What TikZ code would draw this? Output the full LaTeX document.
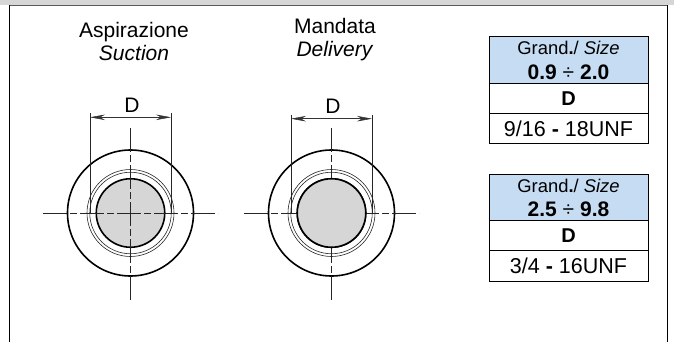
\documentclass[tikz,border=0pt]{standalone}
\usepackage{fontspec}
\setmainfont{Liberation Sans}
\usetikzlibrary{arrows.meta}
\definecolor{bandgray}{RGB}{214,214,214}
\definecolor{framegray}{RGB}{90,90,90}
\definecolor{headblue}{RGB}{198,220,243}
\definecolor{pistongray}{RGB}{214,214,214}
\tikzset{
    x=1pt,y=-1pt,
    thinline/.style={line width=0.6pt,black!85},
    thickline/.style={line width=1.6pt},
    axisline/.style={line width=0.6pt,black!85,dash pattern=on 24pt off 3pt on 7pt off 3pt},
    dimarrow/.style={line width=0.5pt,black!80,{Stealth[length=15pt,width=5.5pt]}-{Stealth[length=15pt,width=5.5pt]}},
    caption/.style={inner sep=0pt,font=\fontsize{21}{23}\selectfont,align=center},
    cell/.style={inner sep=0pt,font=\fontsize{18.4}{20}\selectfont},
    cellrange/.style={inner sep=0pt,font=\fontsize{21}{22}\selectfont\bfseries},
    cellbold/.style={inner sep=0pt,font=\fontsize{20}{22}\selectfont\bfseries},
    cellthread/.style={inner sep=0pt,font=\fontsize{21.5}{22}\selectfont},
    borecircle/.style={circle,draw,thickline,fill=pistongray,minimum size=68.5pt,inner sep=0pt}
}
\newcommand{\portview}[4]{
    % Outer and inner circles
    \node[circle,draw,thickline,minimum size=126pt,inner sep=0pt] (#1outer) at (#2,#3) {};
    \node[circle,draw,thinline,minimum size=87pt,inner sep=0pt] (#1seat) at (#2,#3) {};
    \node[circle,draw,thinline,minimum size=81.5pt,inner sep=0pt] (#1thread) at (#2,#3) {};
    \node[borecircle] (#1bore) at (#2,#3) {};
    % Axes
    \coordinate (#1west) at (#2-87.5,#3);
    \coordinate (#1east) at (#2+87.5,#3);
    \coordinate (#1north) at (#2,#3-85);
    \coordinate (#1south) at (#2,#3+88);
    \draw[axisline] (#1west) -- (#1east);
    \draw[axisline] (#1north) -- (#1south);
    % Dimension
    \coordinate (#1leftlow) at (#2-40.5,#3);
    \coordinate (#1lefttop) at (#2-40.5,#4-4);
    \coordinate (#1rightlow) at (#2+40.5,#3);
    \coordinate (#1righttop) at (#2+40.5,#4-4);
    \draw[thinline] (#1leftlow) -- (#1lefttop);
    \draw[thinline] (#1rightlow) -- (#1righttop);
    \coordinate (#1dimleft) at (#2-40.5,#4);
    \coordinate (#1dimright) at (#2+40.5,#4);
    \draw[dimarrow] (#1dimleft) -- (#1dimright);
    \node[caption] (#1dim) at (#2+1.5,#4-12.5) {D};
}
\newcommand{\sizetable}[8]{
    % Table rows: name, left, top, head, mid, bottom, range, thread
    \fill[headblue] (#2,#3) rectangle (#2+159,#4);
    \draw[line width=0.8pt] (#2,#3) rectangle (#2+159,#6);
    \coordinate (#1ha) at (#2,#4);
    \coordinate (#1hb) at (#2+159,#4);
    \coordinate (#1ma) at (#2,#5);
    \coordinate (#1mb) at (#2+159,#5);
    \draw[line width=0.8pt] (#1ha) -- (#1hb);
    \draw[line width=0.8pt] (#1ma) -- (#1mb);
    \node[cell] (#1size) at (#2+79.5,#3+12) {Grand\textbf{.}/ \textit{Size}};
    \node[cellrange] (#1range) at (#2+79.5,#4-10.5) {#7};
    \node[cellbold] (#1d) at (#2+79.5,#4+15.5) {D};
    \node[cellthread] (#1thread) at (#2+79.5,#5+16) {#8};
}
\begin{document}
\begin{tikzpicture}
    \useasboundingbox (0,0) rectangle (674,342);
    % Frame
    \fill[bandgray] (0,0) rectangle (674,5);
    \coordinate (framebl) at (9.5,342);
    \coordinate (frametl) at (9.5,5.5);
    \coordinate (frametr) at (667,5.5);
    \coordinate (framebr) at (667,342);
    \draw[line width=1pt,framegray] (frametl) -- (frametr);
    \draw[line width=1pt] (framebl) -- (frametl);
    \draw[line width=1pt] (frametr) -- (framebr);
    % Captions
    \node[caption] (suction) at (134,41.5) {Aspirazione\\\textit{Suction}};
    \node[caption] (delivery) at (335,39.5) {Mandata\\\textit{Delivery}};
    % Port views
    \portview{suc}{130.5}{213}{117.3}
    \portview{del}{331.5}{213}{118.7}
    \node[borecircle] (delcover) at (delbore) {};
    % Tables
    \sizetable{first}{489}{36}{83}{113}{143}{0.9 {\normalfont÷} 2.0}{9/16 \textbf{-} 18UNF}
    \sizetable{second}{489}{174}{220}{250}{281}{2.5 {\normalfont÷} 9.8}{3/4 \textbf{-} 16UNF}
\end{tikzpicture}
\end{document}
